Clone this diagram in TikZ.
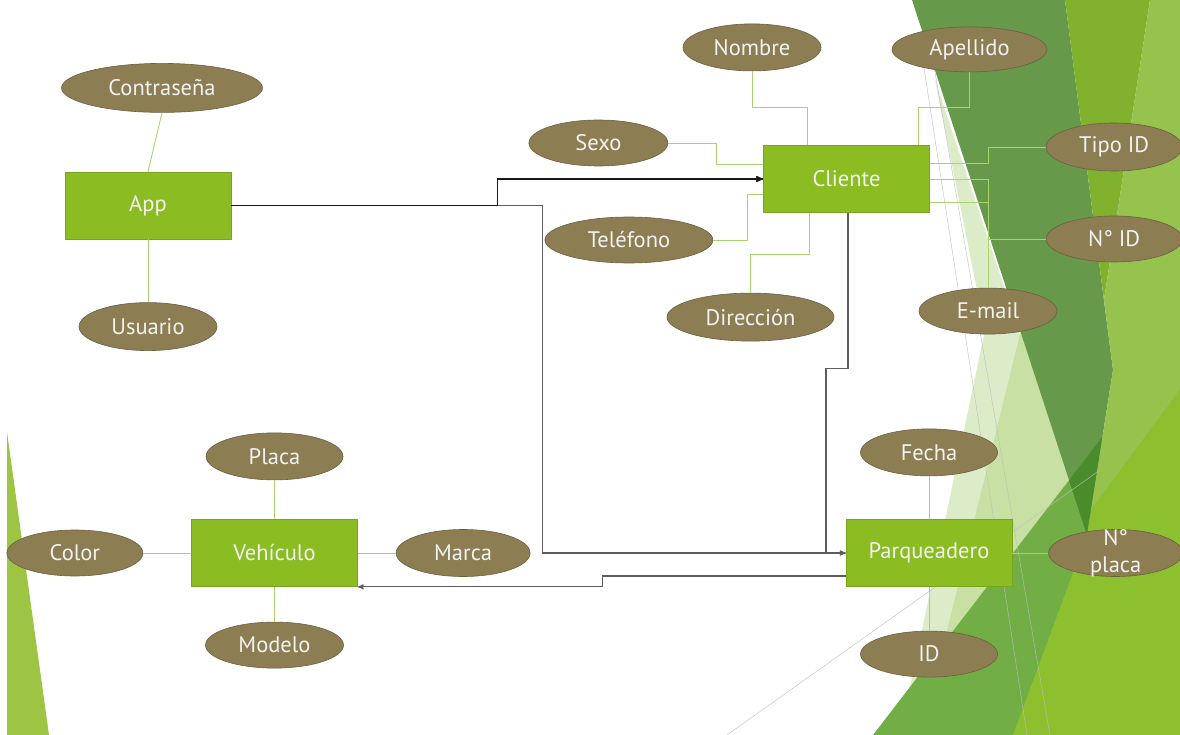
\documentclass[tikz,border=0pt]{standalone}
\usepackage{fontspec}
\setmainfont{PT Sans}
\usepackage{xcolor}
\usepackage{tikz}
\usetikzlibrary{arrows}
\usetikzlibrary{calc}
\usetikzlibrary{positioning}
\usetikzlibrary{shapes.geometric}

\definecolor{entgreen}{HTML}{8BBD22}
\definecolor{entedge}{HTML}{79A51D}
\definecolor{attbrown}{HTML}{8C7D52}
\definecolor{attedge}{HTML}{6C6040}
\definecolor{attgreen}{HTML}{AAD36E}
\definecolor{relgray}{HTML}{5C5C5C}
\definecolor{bgdark}{HTML}{66994A}
\definecolor{bgdarker}{HTML}{4A8B2B}
\definecolor{bgmid}{HTML}{72AE46}
\definecolor{bgpale}{HTML}{DCEBC8}
\definecolor{bgpalemid}{HTML}{C8E0A3}
\definecolor{bgolive}{HTML}{80B22E}
\definecolor{bglight}{HTML}{95C34E}
\definecolor{bgbright}{HTML}{8DC02E}
\definecolor{bgleft}{HTML}{9DC443}
\definecolor{bgline}{HTML}{BEBEBE}

\begin{document}
\begin{tikzpicture}[x=1pt,y=-1pt,-,>=stealth',semithick,
	every node/.style={font=\fontsize{22.5}{27}\selectfont}]
	\useasboundingbox (0,0) rectangle (1180,735);
	% slide background
	\fill[white] (0,0) rectangle (1180,735);
	\fill[bgpale] (935,80) -- (1087,535) -- (900,735) -- (985,330) -- cycle;
	\fill[bgpalemid] (1021,330) -- (1100,500) -- (960,735) -- (930,700) -- cycle;
	\fill[bgmid] (873,735) -- (1180,336) -- (1180,735) -- cycle;
	\fill[bgdark] (912,0) -- (1065,0) -- (1113,370) -- (1087,535) -- cycle;
	\begin{scope}
		\clip (873,735) -- (1180,336) -- (1180,735) -- cycle;
		\fill[bgdarker] (912,0) -- (1065,0) -- (1113,370) -- (1087,535) -- cycle;
	\end{scope}
	\fill[bgolive] (1065,0) -- (1150,0) -- (1104,300) -- cycle;
	\fill[bglight] (1150,0) -- (1180,0) -- (1180,390) -- (1091,510) -- (1113,370) -- (1104,300) -- cycle;
	\fill[bgbright] (1091,510) -- (1180,390) -- (1180,735) -- (1013,735) -- (1087,535) -- cycle;
	\draw[bgline, thin] (922,55) -- (1027,735);
	\draw[bgline, thin] (932,55) -- (1050,735);
	\draw[bgline, thin] (727,735) -- (1100,470);
	\fill[bgleft] (7,432) -- (7,735) -- (49,735) -- cycle;

			\tikzstyle{entity}=[draw=entedge, fill=entgreen, text=white!95!black, minimum width=166pt, minimum height=67pt, inner sep=2pt]
			\tikzstyle{attrib}=[ellipse, draw=attedge, fill=attbrown, text=white!95!black, inner sep=0pt, minimum width=137pt, minimum height=47pt]
			\tikzstyle{attline}=[draw=attgreen, line width=0.9pt]
			\tikzstyle{rel}=[draw=relgray, line width=1.1pt, ->]

				\node[entity] (App) at (148,205.5) {App};
				\node[entity] (Cliente) at (846.5,179) {Cliente};
				\node[entity] (Vehiculo) at (274.5,553) {Vehículo};
				\node[entity] (Parqueadero) at (929,553) {Parqueadero};

				\node[attrib, minimum width=201pt, minimum height=49pt] (Contrasena) [above=59pt of App, xshift=14pt] {Contraseña};
				\node[attrib, minimum width=138pt, minimum height=48pt] (Usuario) [below=63pt of App] {Usuario};

				\node[attrib, minimum width=138pt] (Nombre) [above=74pt of Cliente, xshift=-94.5pt] {Nombre};
				\node[attrib, minimum width=155pt, minimum height=45pt] (Apellido) [above=73pt of Cliente, xshift=123pt] {Apellido};
				\node[attrib, minimum width=139pt, minimum height=46pt] (Sexo) [left=95pt of Cliente, yshift=36pt] {Sexo};
				\node[attrib, minimum width=168pt, minimum height=46pt] (Telefono) [left=50pt of Cliente, yshift=-61pt] {Teléfono};
				\node[attrib, minimum width=167pt, minimum height=48pt] (Direccion) [below=80pt of Cliente, xshift=-96pt] {Dirección};
				\node[attrib, minimum width=136pt, minimum height=48pt] (TipoID) [right=116pt of Cliente, yshift=32pt] {Tipo ID};
				\node[attrib, minimum width=136pt, minimum height=46pt] (NID) [right=116pt of Cliente, yshift=-60pt] {N° ID};
				\node[attrib, minimum width=138pt, minimum height=46pt] (Email) [below=75pt of Cliente, xshift=141.5pt] {E-mail};

				\node[attrib] (Fecha) [above=43pt of Parqueadero] {Fecha};
				\node[attrib, minimum height=46pt] (ID) [below=44pt of Parqueadero] {ID};
				\node[attrib, minimum width=134pt, align=center, inner ysep=-10pt] (NPlaca) [right=36pt of Parqueadero] {N°\\placa};

				\node[attrib] (Placa) [above=39pt of Vehiculo] {Placa};
				\node[attrib, minimum width=138pt, minimum height=46pt] (Modelo) [below=35pt of Vehiculo] {Modelo};
				\node[attrib, minimum width=136pt, minimum height=46pt] (Color) [left=48pt of Vehiculo] {Color};
				\node[attrib, minimum width=134pt] (Marca) [right=38pt of Vehiculo] {Marca};

				\path[attline]
						(Contrasena.south) edge (App.north)
						(App) edge (Usuario)
						(Fecha) edge (Parqueadero)
						(Parqueadero) edge (ID)
						(Parqueadero) edge (NPlaca)
						(Placa) edge (Vehiculo)
						(Vehiculo) edge (Modelo)
						(Color) edge (Vehiculo)
						(Vehiculo) edge (Marca);
				\draw[attline] (Nombre.south) -- ++(0,36) -| ($(Cliente.north)+(-39.5,0)$);
				\draw[attline] (Apellido.south) -- ++(0,35) -| ($(Cliente.north)+(71.5,0)$);
				\draw[attline] (Sexo.east) -- ++(48,0) |- ($(Cliente.west)+(0,-15)$);
				\draw[attline] (Telefono.east) -- ++(34,0) |- ($(Cliente.west)+(0,15)$);
				\draw[attline] (Direccion.north) -- ++(0,-38) -| ($(Cliente.south)+(-37.5,0)$);
				\draw[attline] ($(Cliente.east)+(0,-16)$) -- ++(59,0) |- (TipoID.west);
				\draw[attline] (Cliente.east) -- ++(59,0) |- (NID.west);
				\draw[attline] ($(Cliente.east)+(0,23)$) -| (Email.north);

				\draw[rel] (App.east) -- ++(311,0) |- (Parqueadero.west);
				\draw[rel] ($(Cliente.south)+(1.5,0)$) |- ++(-22,156) |- (Parqueadero.west);
				\draw[rel] ($(Parqueadero.west)+(0,23)$) -- ++(-243,0) |- (Vehiculo.south east);
				\draw[->, line width=1.5pt, black!90] (App.east) -- ++(266,0) |- (Cliente.west);
\end{tikzpicture}
\end{document}
